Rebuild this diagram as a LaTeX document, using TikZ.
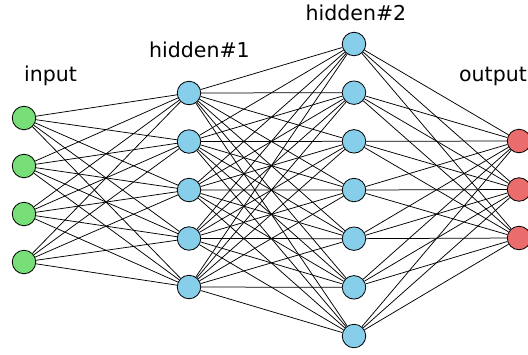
\documentclass[tikz,border=0pt]{standalone}
\usepackage{fontspec}
\setmainfont{DejaVu Sans}
\definecolor{ingreen}{RGB}{120,222,120}
\definecolor{hidblue}{RGB}{135,206,235}
\definecolor{outred}{RGB}{234,108,108}
\begin{document}
\begin{tikzpicture}[x=1pt,y=-1pt,
  neuron/.style={circle,draw=black,line width=0.8pt,minimum size=23.5pt,inner sep=0pt},
  conn/.style={line width=0.75pt,black},
  layerlabel/.style={font=\fontsize{20.5}{21}\selectfont,anchor=base,inner sep=0pt}]
\useasboundingbox (0,0) rectangle (528,354);
\clip (0,0) rectangle (528,354);
\foreach \i in {1,...,4} \node[neuron,fill=ingreen] (a\i) at (24,{118+(\i-1)*48}) {};
\foreach \i in {1,...,5} \node[neuron,fill=hidblue] (b\i) at (189,{93+(\i-1)*48.5}) {};
\foreach \i in {1,...,7} \node[neuron,fill=hidblue] (c\i) at (354,{44+(\i-1)*48.67}) {};
\foreach \i in {1,...,3} \node[neuron,fill=outred] (d\i) at (519,{141+(\i-1)*48.5}) {};
\foreach \i in {1,...,4} \foreach \j in {1,...,5} \draw[conn] (a\i) -- (b\j);
\foreach \i in {1,...,5} \foreach \j in {1,...,7} \draw[conn] (b\i) -- (c\j);
\foreach \i in {1,...,7} \foreach \j in {1,...,3} \draw[conn] (c\i) -- (d\j);
\node[layerlabel] (l1) at (50.5,81) {input};
\node[layerlabel] (l2) at (199.5,57) {hidden\#1};
\node[layerlabel] (l3) at (356,20) {hidden\#2};
\node[layerlabel] (l4) at (493,81) {output};
\end{tikzpicture}
\end{document}
